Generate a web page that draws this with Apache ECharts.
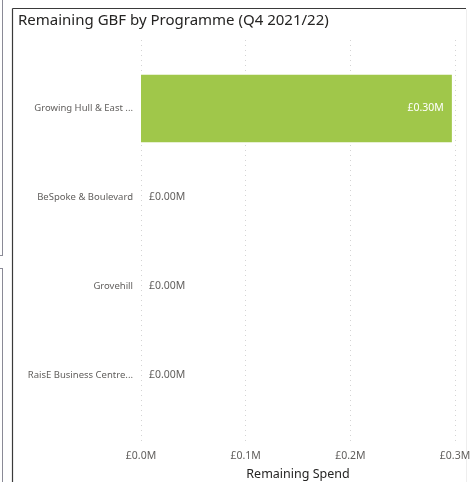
<!DOCTYPE html>
<html>
<head>
<meta charset="utf-8">
<script src="https://cdn.jsdelivr.net/npm/echarts@6/dist/echarts.min.js"></script>
<style>
html,body{margin:0;padding:0;background:#fff;}
#c{width:470px;height:482px;}
</style>
</head>
<body>
<div id="c"></div>
<script>
const categories = ["Growing Hull & East ...", "BeSpoke & Boulevard", "Grovehill", "RaisE Business Centre..."];
const remainingSpend = [0.297, 0, 0, 0];
const xTicks = [0, 0.1, 0.2, 0.3];

const FONT = "Noto Sans";
const chart = echarts.init(document.getElementById('c'), null, {renderer: 'canvas'});

const fmtTick = v => '£' + v.toFixed(1) + 'M';
const fmtVal = v => '£' + v.toFixed(2) + 'M';

chart.setOption({
  animation: false,
  title: {
    text: 'Remaining GBF by Programme (Q4 2021/22)',
    left: 13, top: 8,
    textStyle: {fontFamily: FONT, fontSize: 15, fontWeight: 'normal', color: '#252423'}
  },
  grid: [
    {left: 141, right: 15, top: 64, bottom: 62, containLabel: false, outerBoundsMode: 'none'},
    {left: 141, right: 15, top: 40, bottom: 37, containLabel: false, outerBoundsMode: 'none'}
  ],
  xAxis: [
    {
      gridIndex: 0, type: 'value', min: xTicks[0], max: xTicks[xTicks.length - 1], interval: 0.1,
      axisLine: {show: false}, axisTick: {show: false}, splitLine: {show: false},
      axisLabel: {show: false}
    },
    {
      gridIndex: 1, type: 'value', min: xTicks[0], max: xTicks[xTicks.length - 1], interval: 0.1,
      axisLine: {show: false}, axisTick: {show: false},
      splitLine: {show: true, lineStyle: {color: '#d4d4d4', type: [1, 4], width: 1}},
      axisLabel: {show: true, formatter: fmtTick, color: '#605E5C', fontFamily: FONT, fontSize: 10.5, margin: 6},
      name: 'Remaining Spend', nameLocation: 'middle', nameGap: 23,
      nameTextStyle: {fontFamily: FONT, fontSize: 12.5, color: '#252423'}
    }
  ],
  yAxis: [
    {
      gridIndex: 0, type: 'category', data: categories, inverse: true,
      axisLine: {show: false}, axisTick: {show: false}, splitLine: {show: false},
      axisLabel: {color: '#605E5C', fontFamily: FONT, fontSize: 9.5, margin: 8}
    },
    {
      gridIndex: 1, type: 'value', show: false, min: 0, max: 1
    }
  ],
  series: [{
    type: 'bar',
    xAxisIndex: 0, yAxisIndex: 0,
    data: remainingSpend.map(v => ({
      value: v,
      label: v > 0.05
        ? {show: true, position: 'insideRight', distance: 8, color: '#ffffff', formatter: p => fmtVal(p.value), fontFamily: FONT, fontSize: 10.5}
        : {show: true, position: 'right', distance: 8, color: '#605E5C', formatter: p => fmtVal(p.value), fontFamily: FONT, fontSize: 10.5}
    })),
    barWidth: '76%',
    itemStyle: {color: '#A0C74A'}
  }],
  graphic: [
    {type: 'line', shape: {x1: 12.5, y1: 8.5, x2: 12.5, y2: 482}, style: {stroke: '#3a3a3a', lineWidth: 1.2}},
    {type: 'line', shape: {x1: 12.5, y1: 8.5, x2: 466, y2: 8.5}, style: {stroke: '#3a3a3a', lineWidth: 1.2}},
    {type: 'line', shape: {x1: 466.5, y1: 9, x2: 466.5, y2: 482}, style: {stroke: '#eeeeee', lineWidth: 1}},
    {type: 'line', shape: {x1: 2.5, y1: 0, x2: 2.5, y2: 255}, style: {stroke: '#8a8a96', lineWidth: 1}},
    {type: 'line', shape: {x1: 0, y1: 255.5, x2: 3, y2: 255.5}, style: {stroke: '#8a8a96', lineWidth: 1}},
    {type: 'line', shape: {x1: 0, y1: 268.5, x2: 3, y2: 268.5}, style: {stroke: '#8a8a96', lineWidth: 1}},
    {type: 'line', shape: {x1: 2.5, y1: 268, x2: 2.5, y2: 482}, style: {stroke: '#8a8a96', lineWidth: 1}}
  ]
});
</script>
</body>
</html>
